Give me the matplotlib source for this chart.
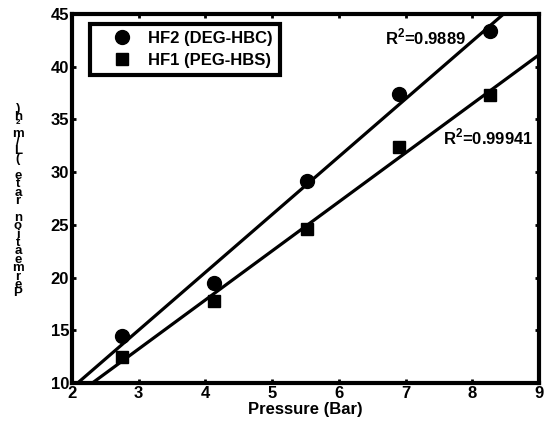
import numpy as np
import matplotlib
matplotlib.use("Agg")
import matplotlib.pyplot as plt

plt.rcParams['font.family'] = ['Liberation Sans', 'DejaVu Sans']
plt.rcParams['font.weight'] = 'bold'
plt.rcParams['mathtext.fontset'] = 'custom'
plt.rcParams['mathtext.rm'] = 'Liberation Sans:bold'
plt.rcParams['mathtext.bf'] = 'Liberation Sans:bold'

pressure = [2.75, 4.13, 5.52, 6.90, 8.27]
hf2_flux = [14.5, 19.5, 29.2, 37.4, 43.4]
hf1_flux = [12.5, 17.8, 24.6, 32.4, 37.3]
hf2_label = "HF2 (DEG-HBC)"
hf1_label = "HF1 (PEG-HBS)"
hf2_r2 = "0.9889"
hf1_r2 = "0.99941"
xlabel = "Pressure (Bar)"
ylabel = "Permeation rate (L/m²h)"
xticks = [2, 3, 4, 5, 6, 7, 8, 9]
yticks = [10, 15, 20, 25, 30, 35, 40, 45]

W, H = 545, 430
fig = plt.figure(figsize=(W / 100, H / 100), dpi=100)
ax = fig.add_axes([72 / W, 1 - 383 / H, (539 - 72) / W, (383 - 14) / H])

xx = np.array([2.0, 9.0])
for ys in (hf2_flux, hf1_flux):
    k, b = np.polyfit(pressure, ys, 1)
    ax.plot(xx, k * xx + b, color='black', lw=2.3, zorder=2)

ax.plot(pressure, hf2_flux, 'o', color='black', ms=10, ls='none', label=hf2_label, zorder=3)
ax.plot(pressure, hf1_flux, 's', color='black', ms=9, ls='none', label=hf1_label, zorder=3)

ax.set_xlim(2, 9)
ax.set_ylim(10, 45)
ax.set_xticks(xticks)
ax.set_yticks(yticks)
ax.tick_params(direction='in', length=3, width=2, top=True, right=True,
               labelsize=12, pad=2)
for lab in ax.get_xticklabels() + ax.get_yticklabels():
    lab.set_fontweight('bold')
for s in ax.spines.values():
    s.set_linewidth(3)

ax.set_xlabel(xlabel, fontsize=12, fontweight='bold', labelpad=1)

ax.text(6.69, 42.8, r'R$^{\mathbf{2}}$=' + hf2_r2, fontsize=12, fontweight='bold',
        va='center', ha='left')
ax.text(7.56, 33.3, r'R$^{\mathbf{2}}$=' + hf1_r2, fontsize=12, fontweight='bold',
        va='center', ha='left')

leg = ax.legend(loc='upper left', bbox_to_anchor=(0.0385, 0.973), fontsize=12,
                frameon=True, fancybox=False, edgecolor='black', handlelength=3.0,
                handletextpad=0.1, borderpad=0.4, labelspacing=0.44, borderaxespad=0,
                framealpha=1)
leg.get_frame().set_linewidth(3)
for t in leg.get_texts():
    t.set_fontweight('bold')

# y label: upright characters stacked from bottom to top (one text, one char per line)
stacked = "\n".join(reversed(list(ylabel)))
fig.text(18 / W, 1 - 201 / H, stacked, fontsize=9.5, fontweight='bold',
         ha='center', va='center', multialignment='center', linespacing=0.6)

fig.savefig('out.png', dpi=100)
